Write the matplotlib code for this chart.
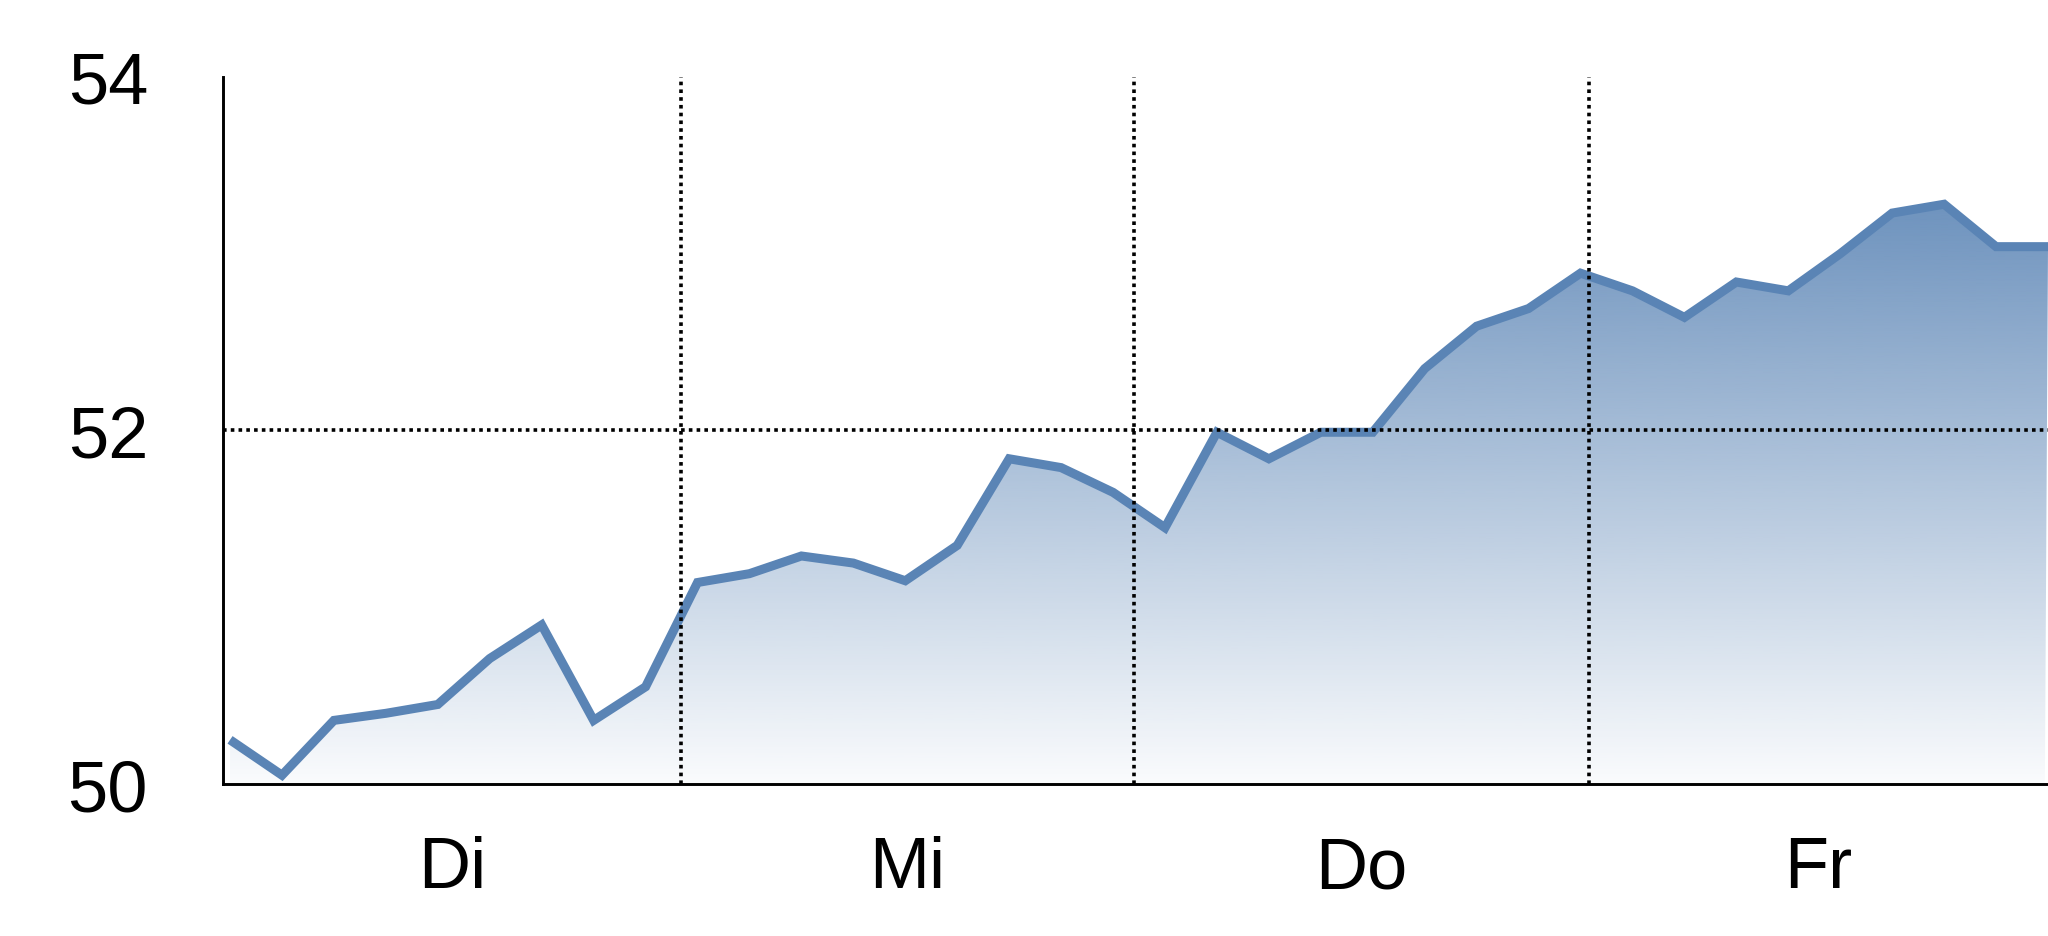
"""
Intraday price line over four trading days with a gradient area fill.
"""

import numpy as np
import matplotlib
matplotlib.use("Agg")
import matplotlib.pyplot as plt
from matplotlib.patches import Polygon

# Chart data
DAY_LABELS = ["Di", "Mi", "Do", "Fr"]
DAY_EDGES = [8.68, 17.40, 26.16]          # dotted separators between days (sample index)
DAY_CENTERS = [4.27, 13.04, 21.78, 30.58]
VALUES = [50.25, 50.05, 50.36, 50.40, 50.45, 50.71, 50.90, 50.36, 50.55,
          51.14, 51.19, 51.29, 51.25, 51.15, 51.35, 51.84, 51.79, 51.65,
          51.45, 51.99, 51.84, 51.99, 51.99, 52.35, 52.59, 52.69, 52.89,
          52.79, 52.64, 52.84, 52.79, 53.00, 53.23, 53.28, 53.04, 53.04]
Y_TICKS = [50, 52, 54]

LINE_COLOR = "#5a84b5"
FONT = ["Liberation Sans", "DejaVu Sans"]


def add_gradient_fill(ax, x, y, base, y0):
    """Fill under the curve with a vertical fade from colour to white."""
    top = max(y)
    n = 256
    rgba = np.zeros((n, 1, 4))
    rgba[..., :3] = matplotlib.colors.to_rgb(base)
    rgba[:, 0, 3] = np.linspace(0.03, 0.88, n)
    im = ax.imshow(rgba, extent=[x[0], x[-1], y0, top], origin="lower",
                   aspect="auto", zorder=1, interpolation="bilinear")
    verts = [(x[0], y0)] + list(zip(x, y)) + [(x[-1] - 0.06, y0)]
    clip = Polygon(verts, closed=True, facecolor="none", edgecolor="none")
    ax.add_patch(clip)
    im.set_clip_path(clip)


def main():
    fig = plt.figure(figsize=(20.48, 9.37), dpi=100)
    ax = fig.add_axes([0.1089, 0.1622, 0.8911, 0.7546])

    x = np.arange(len(VALUES))
    add_gradient_fill(ax, x, VALUES, LINE_COLOR, 50)
    ax.plot(x, VALUES, color=LINE_COLOR, linewidth=6.5,
            solid_joinstyle="miter", solid_capstyle="butt", zorder=3)

    dots = (0, (1, 1.15))
    for edge in DAY_EDGES:
        ax.axvline(edge, color="black", linewidth=2.6, linestyle=dots, zorder=5)
    ax.axhline(52, color="black", linewidth=2.6, linestyle=dots, zorder=5)

    ax.set_xlim(-0.135, len(VALUES) - 1)
    ax.set_ylim(50, 54)

    ax.set_yticks(Y_TICKS)
    ax.set_yticklabels([str(t) for t in Y_TICKS], fontsize=52, family=FONT)
    ax.set_xticks(DAY_CENTERS)
    ax.set_xticklabels(DAY_LABELS, fontsize=52, family=FONT)
    ax.tick_params(axis="y", length=0, pad=54)
    ax.tick_params(axis="x", length=0, pad=37)

    for side in ["top", "right"]:
        ax.spines[side].set_visible(False)
    for side in ["left", "bottom"]:
        ax.spines[side].set_linewidth(2.1)
        ax.spines[side].set_color("black")
        ax.spines[side].set_zorder(6)

    fig.savefig("out.png", dpi=100)


if __name__ == "__main__":
    main()
